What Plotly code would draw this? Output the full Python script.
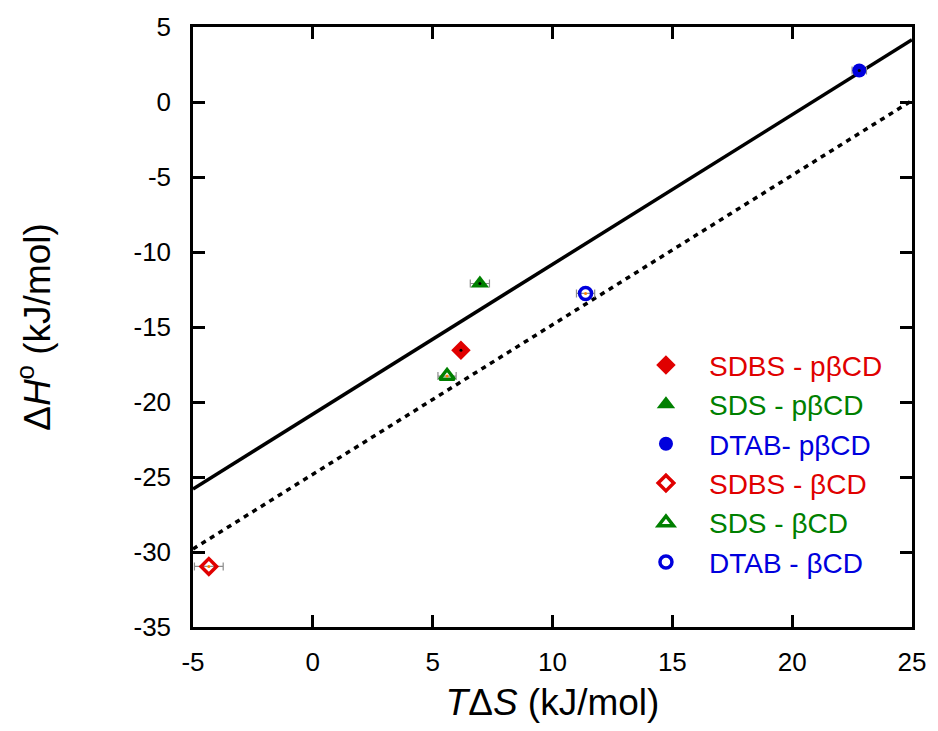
import plotly.graph_objects as go

# ---- data ----
series_names = ["SDBS - pβCD", "SDS - pβCD", "DTAB- pβCD", "SDBS - βCD", "SDS - βCD", "DTAB - βCD"]
series_colors = ["#e00000", "#008000", "#0000dd", "#e00000", "#008000", "#0000dd"]
series_symbols = ["diamond", "triangle-up", "circle", "diamond-open", "triangle-up-open", "circle-open"]
series_sizes = [15, 16, 14, 12, 13, 12]
tds = [6.18, 6.97, 22.8, -4.34, 5.6, 11.38]
dh = [-16.55, -12.1, 2.1, -30.96, -18.27, -12.76]
tds_err = [0.15, 0.4, 0.3, 0.6, 0.38, 0.38]
center_colors = ["black", "black", "black", "#ff8000", "#ff8000", "#ff8000"]

fit_x = [-5, 25]
fit_solid_y = [-25.8, 4.15]
fit_dotted_y = [-29.8, 0.1]

x_ticks = [-5, 0, 5, 10, 15, 20, 25]
y_ticks = [5, 0, -5, -10, -15, -20, -25, -30, -35]

FONT = "Liberation Sans, Arial, sans-serif"

fig = go.Figure()

fig.add_trace(go.Scatter(x=fit_x, y=fit_solid_y, mode="lines",
                         line=dict(color="black", width=3.5), showlegend=False, hoverinfo="skip"))
fig.add_trace(go.Scatter(x=fit_x, y=fit_dotted_y, mode="lines",
                         line=dict(color="black", width=3.5, dash="5px,5px"), showlegend=False, hoverinfo="skip"))

for i, name in enumerate(series_names):
    open_sym = series_symbols[i].endswith("open")
    fig.add_trace(go.Scatter(
        x=[tds[i]], y=[dh[i]], mode="markers",
        name=f"<span style='color:{series_colors[i]}'>{name}</span>",
        legendgroup=f"g{i}",
        marker=dict(symbol=series_symbols[i], size=series_sizes[i], color=series_colors[i],
                    line=dict(color=series_colors[i], width=3.5 if open_sym else 0)),
        error_x=dict(type="data", array=[tds_err[i]], color="#8c8c8c", thickness=1.2, width=4),
    ))

fig.add_trace(go.Scatter(x=tds, y=dh, mode="markers",
                         marker=dict(size=3, color=center_colors), showlegend=False, hoverinfo="skip"))

axis_common = dict(
    showline=True, linecolor="black", linewidth=2.5, mirror="ticks",
    ticks="inside", ticklen=12, tickwidth=2.5, tickcolor="black",
    showgrid=False, zeroline=False,
    tickfont=dict(family=FONT, size=26, color="black"),
)

fig.update_xaxes(range=[-5, 25], tickvals=x_ticks, ticktext=[str(v) for v in x_ticks],
                 ticklabelstandoff=10,
                 title=dict(text="<i>T</i>Δ<i>S</i> (kJ/mol)", standoff=14,
                            font=dict(family=FONT, size=37, color="black")),
                 **axis_common)
fig.update_yaxes(range=[-35, 5], tickvals=y_ticks, ticktext=[str(v) for v in y_ticks],
                 ticklabelstandoff=14,
                 title=dict(text="Δ<i>H</i><sup>o</sup> (kJ/mol)", standoff=72,
                            font=dict(family=FONT, size=37, color="black")),
                 **axis_common)

fig.update_layout(
    width=938, height=731,
    margin=dict(l=193, r=18, t=24, b=104),
    plot_bgcolor="white", paper_bgcolor="white",
    font=dict(family=FONT, color="black"),
    legend=dict(x=0.598, y=0.478, xanchor="left", yanchor="top",
                font=dict(family=FONT, size=28),
                tracegroupgap=0, itemwidth=76, bgcolor="rgba(0,0,0,0)"),
)

fig.write_html("out.html")
